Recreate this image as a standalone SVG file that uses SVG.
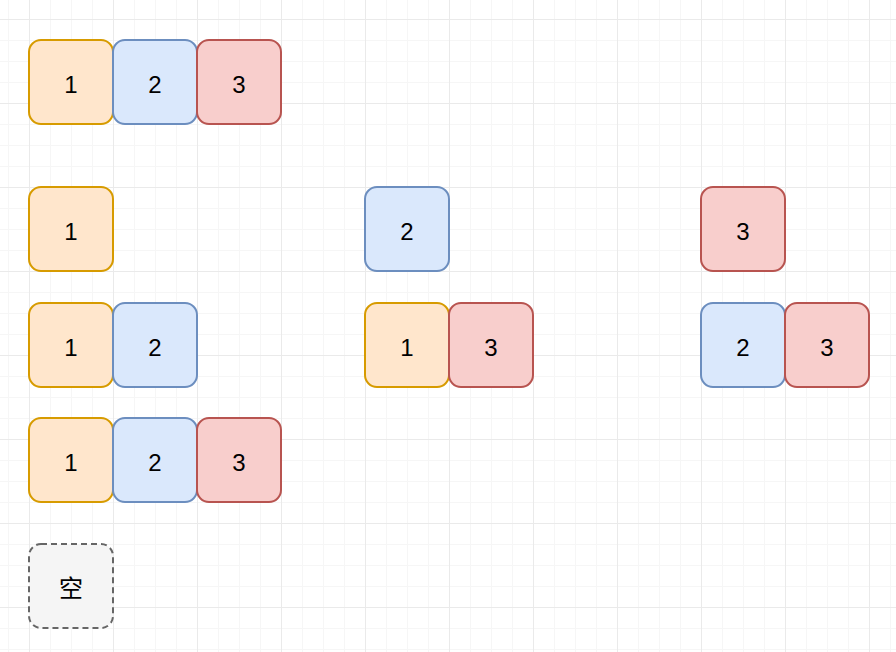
<svg xmlns="http://www.w3.org/2000/svg" width="896" height="652" viewBox="0 0 896 652">
<defs>
<pattern id="minor" x="8" y="19" width="21" height="21" patternUnits="userSpaceOnUse">
<path d="M0 0.5H21M0.5 0V21" fill="none" stroke="#f6f6f6" stroke-width="1"/>
</pattern>
<pattern id="major" x="29" y="19" width="84" height="84" patternUnits="userSpaceOnUse">
<path d="M0 0.5H84M0.5 0V84" fill="none" stroke="#eaeaea" stroke-width="1"/>
</pattern>
</defs>
<style>
.b{stroke-width:2}
.o{fill:#ffe6cc;stroke:#d79b00}
.u{fill:#dae8fc;stroke:#6c8ebf}
.r{fill:#f8cecc;stroke:#b85450}
.g{fill:#f5f5f5;stroke:#666666;stroke-dasharray:6 4}
text{font-family:"Liberation Sans",Arial,"Noto Sans CJK SC",sans-serif;font-size:24px;fill:#000;text-anchor:middle;dominant-baseline:central}
</style>
<rect width="896" height="652" fill="#ffffff"/>
<rect width="896" height="652" fill="url(#minor)"/>
<rect width="896" height="652" fill="url(#major)"/>
<g id="connectors"></g>
<g id="r1n1"><rect class="b o" x="29" y="40" width="84" height="84" rx="12"/><text x="71" y="84">1</text></g>
<g id="r1n2"><rect class="b u" x="113" y="40" width="84" height="84" rx="12"/><text x="155" y="84">2</text></g>
<g id="r1n3"><rect class="b r" x="197" y="40" width="84" height="84" rx="12"/><text x="239" y="84">3</text></g>
<g id="r2n1"><rect class="b o" x="29" y="187" width="84" height="84" rx="12"/><text x="71" y="231">1</text></g>
<g id="r2n2"><rect class="b u" x="365" y="187" width="84" height="84" rx="12"/><text x="407" y="231">2</text></g>
<g id="r2n3"><rect class="b r" x="701" y="187" width="84" height="84" rx="12"/><text x="743" y="231">3</text></g>
<g id="r3n1"><rect class="b o" x="29" y="303" width="84" height="84" rx="12"/><text x="71" y="347">1</text></g>
<g id="r3n2"><rect class="b u" x="113" y="303" width="84" height="84" rx="12"/><text x="155" y="347">2</text></g>
<g id="r3n3"><rect class="b o" x="365" y="303" width="84" height="84" rx="12"/><text x="407" y="347">1</text></g>
<g id="r3n4"><rect class="b r" x="449" y="303" width="84" height="84" rx="12"/><text x="491" y="347">3</text></g>
<g id="r3n5"><rect class="b u" x="701" y="303" width="84" height="84" rx="12"/><text x="743" y="347">2</text></g>
<g id="r3n6"><rect class="b r" x="785" y="303" width="84" height="84" rx="12"/><text x="827" y="347">3</text></g>
<g id="r4n1"><rect class="b o" x="29" y="418" width="84" height="84" rx="12"/><text x="71" y="462">1</text></g>
<g id="r4n2"><rect class="b u" x="113" y="418" width="84" height="84" rx="12"/><text x="155" y="462">2</text></g>
<g id="r4n3"><rect class="b r" x="197" y="418" width="84" height="84" rx="12"/><text x="239" y="462">3</text></g>
<g id="empty"><rect class="b g" x="29" y="544" width="84" height="84" rx="12"/><text x="71" y="588" fill="#333">空</text></g>
</svg>
